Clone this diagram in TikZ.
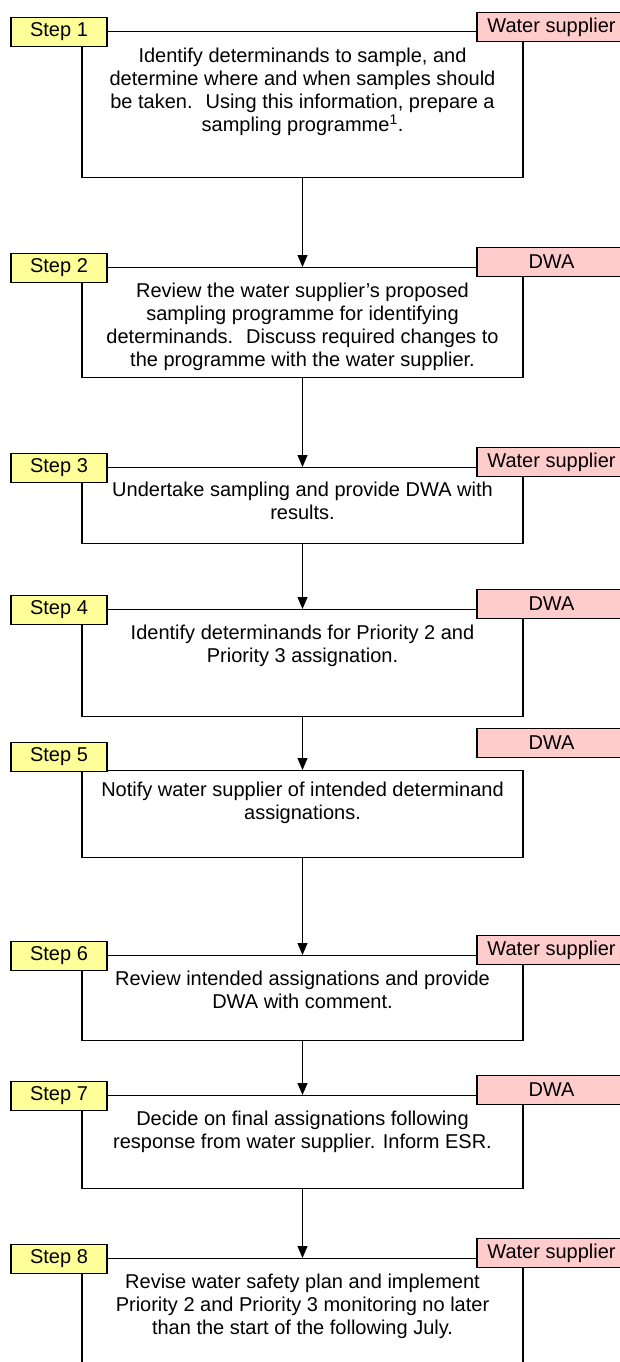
\documentclass[tikz,border=0pt]{standalone}
\usepackage{fontspec}
\setmainfont{Liberation Sans}
\usetikzlibrary{arrows.meta}
\definecolor{lblyellow}{HTML}{FFFF99}
\definecolor{rolepink}{HTML}{FFCCCC}
\begin{document}
\begin{tikzpicture}[x=1pt,y=-1pt,
  mainbox/.style={draw=black,line width=1.2pt,fill=white,minimum width=441pt,anchor=north,inner sep=0pt},
  steplbl/.style={draw=black,line width=1.1pt,fill=lblyellow,minimum width=96pt,minimum height=29pt,inner sep=0pt,font=\fontsize{20}{23}\selectfont},
  rolelbl/.style={draw=black,line width=1.1pt,fill=rolepink,minimum width=149pt,minimum height=29pt,inner sep=0pt,font=\fontsize{20}{23}\selectfont},
  boxtext/.style={align=center,anchor=north,inner sep=0pt,font=\fontsize{20}{23}\selectfont},
  arr/.style={line width=1.1pt,-{Triangle[width=10pt,length=12pt]}}]
\useasboundingbox (0,0) rectangle (620,1362);
% step 1
\node[mainbox,minimum height=146pt] (box1) at (302.5,31) {};
\node[boxtext] (txt1) at (302.5,48) {Identify determinands to sample, and\\determine where and when samples should\\be taken.~ Using this information, prepare a\\sampling programme\textsuperscript{1}.};
\node[steplbl] (lab1) at (59,32) {Step 1};
\node[rolelbl] (role1) at (551.5,27) {Water supplier};
% step 2
\node[mainbox,minimum height=110pt] (box2) at (302.5,267) {};
\node[boxtext] (txt2) at (302.5,283) {Review the water supplier’s proposed\\sampling programme for identifying\\determinands.~ Discuss required changes to\\the programme with the water supplier.};
\node[steplbl] (lab2) at (59,268) {Step 2};
\node[rolelbl] (role2) at (551.5,262) {DWA};
% step 3
\node[mainbox,minimum height=76pt] (box3) at (302.5,467) {};
\node[boxtext] (txt3) at (302.5,482) {Undertake sampling and provide DWA with\\results.};
\node[steplbl] (lab3) at (59,468) {Step 3};
\node[rolelbl] (role3) at (551.5,462) {Water supplier};
% step 4
\node[mainbox,minimum height=107pt] (box4) at (302.5,609) {};
\node[boxtext] (txt4) at (302.5,625) {Identify determinands for Priority 2 and\\Priority 3 assignation.};
\node[steplbl] (lab4) at (59,610) {Step 4};
\node[rolelbl] (role4) at (551.5,604) {DWA};
% step 5
\node[mainbox,minimum height=87pt] (box5) at (302.5,770) {};
\node[boxtext] (txt5) at (302.5,782) {Notify water supplier of intended determinand\\assignations.};
\node[steplbl] (lab5) at (59,757) {Step 5};
\node[rolelbl] (role5) at (551.5,743) {DWA};
% step 6
\node[mainbox,minimum height=85pt] (box6) at (302.5,955) {};
\node[boxtext] (txt6) at (302.5,971) {Review intended assignations and provide\\DWA with comment.};
\node[steplbl] (lab6) at (59,956) {Step 6};
\node[rolelbl] (role6) at (551.5,950) {Water supplier};
% step 7
\node[mainbox,minimum height=93pt] (box7) at (302.5,1095) {};
\node[boxtext] (txt7) at (302.5,1111) {Decide on final assignations following\\response from water supplier. Inform ESR.};
\node[steplbl] (lab7) at (59,1096) {Step 7};
\node[rolelbl] (role7) at (551.5,1090) {DWA};
% step 8
\node[mainbox,minimum height=130pt] (box8) at (302.5,1258) {};
\node[boxtext] (txt8) at (302.5,1274) {Revise water safety plan and implement\\Priority 2 and Priority 3 monitoring no later\\than the start of the following July.};
\node[steplbl] (lab8) at (59,1259) {Step 8};
\node[rolelbl] (role8) at (551.5,1253) {Water supplier};
% arrows
\draw[arr] (box1.south) -- (box2.north);
\draw[arr] (box2.south) -- (box3.north);
\draw[arr] (box3.south) -- (box4.north);
\draw[arr] (box4.south) -- (box5.north);
\draw[arr] (box5.south) -- (box6.north);
\draw[arr] (box6.south) -- (box7.north);
\draw[arr] (box7.south) -- (box8.north);
\end{tikzpicture}
\end{document}
